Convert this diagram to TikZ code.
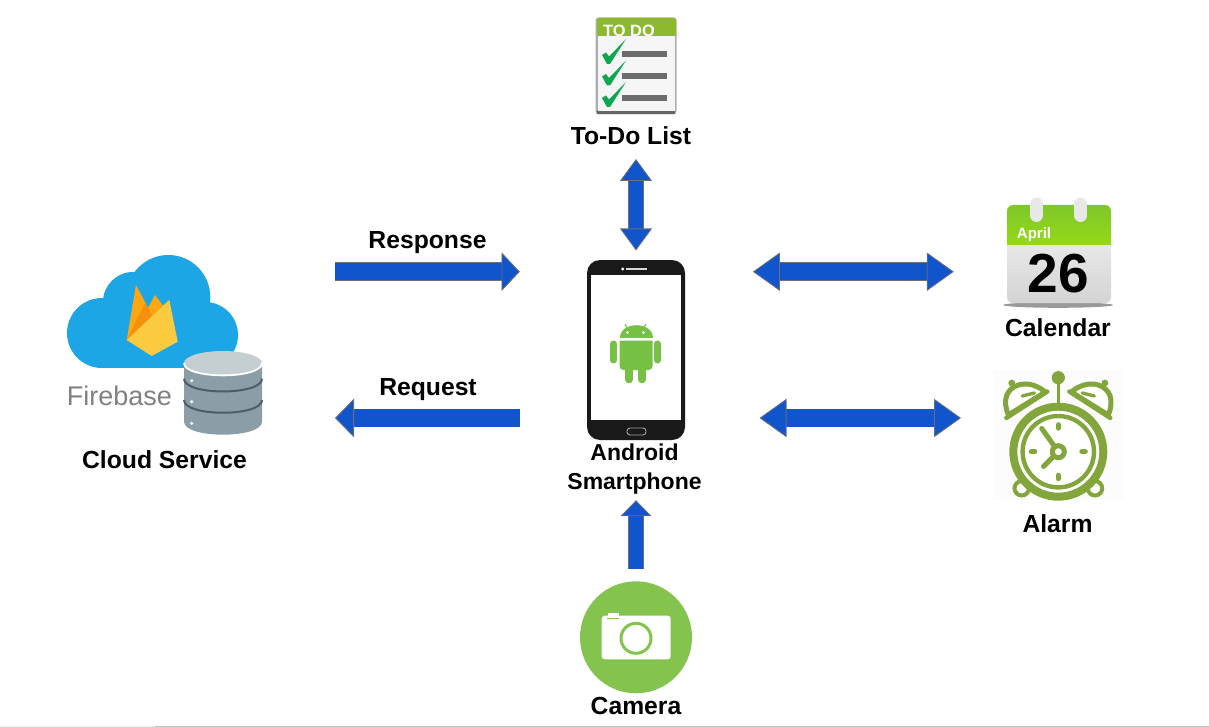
\documentclass[tikz,border=0pt]{standalone}
\usepackage{fontspec}
\setmainfont{Liberation Sans}
\usetikzlibrary{arrows.meta}
\definecolor{arrowblue}{RGB}{17,85,204}
\definecolor{arrowedge}{RGB}{110,110,118}
\definecolor{cloudblue}{RGB}{28,166,230}
\definecolor{dbbody}{RGB}{139,158,168}
\definecolor{dbtopc}{RGB}{197,207,210}
\definecolor{dbband}{RGB}{76,95,105}
\definecolor{flamefront}{RGB}{252,202,63}
\definecolor{flameback}{RGB}{255,167,18}
\definecolor{flamedark}{RGB}{245,143,14}
\definecolor{androidgreen}{RGB}{118,192,67}
\definecolor{cameragreen}{RGB}{132,196,78}
\definecolor{alarmgreen}{RGB}{130,166,60}
\definecolor{caltop}{RGB}{126,200,42}
\definecolor{calgreen}{RGB}{150,216,22}
\definecolor{todogreen}{RGB}{141,185,46}
\definecolor{checkgreen}{RGB}{12,167,80}
\tikzset{
    lbl/.style={inner sep=0pt, align=center, font=\bfseries\fontsize{24.7}{28.7}\selectfont},
    blockbase/.style={draw=arrowedge, line width=.8pt, double=arrowblue, double distance=#1},
    headtip/.style n args={2}{>={Triangle[length=#1pt, width=#2pt, fill=arrowblue, color=arrowedge, line width=.8pt]}}
}
\begin{document}
\begin{tikzpicture}[x=1pt, y=-1pt]
\useasboundingbox (0,0) rectangle (1209,727);
\draw[black!7, line width=1pt] (0,726.4) -- (155,726.4);
\draw[black!24, line width=1pt] (155,726.4) -- (1209,726.4);

\coordinate (upper) at (0,271.7);
\coordinate (lower) at (0,418);
\coordinate (dbedge) at (262,363);

% to-do list
\node (todo) at (636,66) [fill=black!32, rounded corners=3pt, minimum width=81pt, minimum height=97pt, inner sep=0pt]{};
\fill[black!60] (597,110) rectangle (675,114.5);
\fill[black!4] (597.5,36) rectangle (675,111);
\fill[todogreen, rounded corners=2pt] (597,18) rectangle (676,36);
\node (todotitle) at (629,30.5) [text=white, inner sep=0pt, font=\bfseries\fontsize{16.4}{18}\selectfont]{TO DO};
\foreach \y in {0,21.5,43}
{
    \fill[checkgreen] (602,55+\y) -- (606,52.5+\y) -- (609,56.5+\y) -- (626,39+\y) -- (610,64+\y) -- (607,64+\y) -- cycle;
}
\foreach \y in {54,76,98.5}
{
    \fill[black!58] (622,\y-3) rectangle (667,\y+3);
}
\node (todolabel) at (631,136) [lbl]{To-Do List};

% firebase
\fill[cloudblue] (168.3,297) circle (42);
\fill[cloudblue] (133,302) circle (30);
\fill[cloudblue] (102,333) circle (35);
\fill[cloudblue] (205,335) circle (33);
\fill[cloudblue] (102,310) rectangle (205,368);
\fill[flameback] (148,308) -- (155,295) -- (165,308.3) -- (169.3,300) -- (126.7,340) -- cycle;
\fill[flameback] (126.7,340) -- (136,285) -- (148.3,308.3) -- cycle;
\fill[flamedark] (126.7,340) -- (145,303) -- (153,317) -- cycle;
\fill[flamefront] (126.7,340) -- (169.3,300) -- (177.7,341.7) -- (151.7,356) -- cycle;
\node (firebase) at (119.5,396) [text=black!50, inner sep=0pt, font=\fontsize{27}{30}\selectfont]{Firebase};
\fill[dbbody] (184,363) -- (184,421.7) .. controls (184,439) and (262,439) .. (262,421.7) -- (262,363) -- cycle;
\foreach \y in {378.7,400}
{
    \draw[dbband, line width=2pt] (184,\y) .. controls (184,\y+17) and (262,\y+17) .. (262,\y);
}
\fill[dbtopc] (223,363) ellipse (39 and 12);
\draw[white, line width=1.8pt] (184,363) .. controls (184,379.5) and (262,379.5) .. (262,363);
\foreach \y in {380.7,401.7,423.3}
{
    \fill[white!85!dbbody] (191.7,\y) circle (1.8);
}
\node (cloudlabel) at (164.5,460) [lbl]{Cloud Service};

% phone
\node (phone) at (636,350) [fill=black!90, rounded corners=13pt, minimum width=98pt, minimum height=180pt, inner sep=0pt]{};
\fill[white] (591,275) rectangle (681,420);
\draw[white!85!black, line width=2pt] (626,269) -- (647,269);
\fill[white] (622.7,269) circle (1.6);
\draw[white!65!black, line width=.9pt, rounded corners=3pt] (627,428) rectangle (646,435);
\fill[androidgreen] (619.5,338) .. controls (619.5,320.7) and (652.5,320.7) .. (652.5,338) -- cycle;
\fill[androidgreen] (619.5,340.5) [rounded corners=4pt] -- (619.5,370) -- (652.5,370) [sharp corners] -- (652.5,340.5) -- cycle;
\foreach \x in {613.5,657.5}
{
    \draw[androidgreen, line width=7pt, line cap=round] (\x,344) -- (\x,360);
}
\foreach \x in {629,642}
{
    \draw[androidgreen, line width=7.6pt, line cap=round] (\x,368) -- (\x,379.5);
}
\draw[androidgreen, line width=1pt] (625,324) -- (627.3,328.3);
\draw[androidgreen, line width=1pt] (646,324) -- (643.3,328.3);
\foreach \x in {627.5,643.5}
{
    \fill[white] (\x,332.7) circle (1.5);
}
\node (phonelabel) at (634.5,469) [lbl, font=\bfseries\fontsize{23}{28.7}\selectfont]{Android\\Smartphone};

% calendar
\fill[black!40] (1058,305) ellipse (55 and 2.8);
\node (calendar) at (1059,254) [top color=black!4, bottom color=black!17, rounded corners=6pt, minimum width=104pt, minimum height=98pt, inner sep=0pt]{};
\shade[top color=caltop, bottom color=calgreen] (1007,245) [rounded corners=6pt] -- (1007,205) -- (1111,205) [sharp corners] -- (1111,245) -- cycle;
\foreach \x in {1036.5,1080.5}
{
    \draw[black!9, line width=13pt, line cap=round] (\x,204) -- (\x,215.5);
}
\node (calmonth) at (1034,235) [text=white, inner sep=0pt, font=\bfseries\fontsize{15}{17}\selectfont]{April};
\node (calday) at (1058,274) [inner sep=0pt, font=\bfseries\fontsize{55}{55}\selectfont]{26};
\node (calendarlabel) at (1058,328) [lbl]{Calendar};

% alarm
\fill[black!1] (993,370) rectangle (1123,500);
\foreach \s in {1,-1}
{
    \begin{scope}[shift={(1058.3,0)}, xscale=\s]
        \draw[alarmgreen, line width=5pt, line join=round, fill=white] (-50,415) .. controls (-56,400) and (-52,389) .. (-40,385) .. controls (-30,382) and (-20,386) .. (-13,392) -- cycle;
        \draw[alarmgreen, line width=4.4pt, line cap=round] (-52,418) -- (-11,391.5);
        \draw[alarmgreen, line width=3.4pt, line cap=round] (-24,393) -- (-36,396);
        \fill[alarmgreen] (-46.6,383) circle (3.4);
    \end{scope}
}
\draw[alarmgreen, line width=3pt] (1058.3,380) -- (1058.3,405);
\fill[alarmgreen] (1058.3,377.7) circle (6.6);
\foreach \x in {1021.7,1095}
{
    \draw[alarmgreen, line width=4pt, fill=white] (\x,488.3) circle (7.2);
}
\node (alarm) at (1058.3,451.7) [circle, draw=alarmgreen, fill=white, line width=8pt, minimum size=90pt, inner sep=0pt]{};
\draw[alarmgreen, line width=4.4pt] (1058.3,451.7) circle (35.7);
\draw[alarmgreen, line width=5pt, line cap=round] (1058.3,451.7) -- (1041.7,428.5);
\draw[alarmgreen, line width=5pt, line cap=round] (1058.3,451.7) -- (1043.5,466.5);
\draw[alarmgreen, line width=5pt, fill=white] (1058.3,451.7) circle (6);
\foreach \a in {0,90,180,270}
{
    \draw[shift={(1058.3,451.7)}, alarmgreen, line width=5pt, line cap=round] (\a:23.5) -- (\a:27);
}
\node (alarmlabel) at (1057.5,524) [lbl]{Alarm};

% camera
\node (camera) at (636,637.3) [circle, fill=cameragreen, minimum size=112pt, inner sep=0pt]{};
\fill[white, rounded corners=3pt] (601.7,615.7) rectangle (670.7,659.3);
\fill[white] (607.5,613) rectangle (618.5,617);
\draw[cameragreen, line width=.9pt] (607,618.2) -- (618.5,618.2);
\draw[cameragreen, line width=3pt, fill=white] (636,638.3) circle (15);
\node (cameralabel) at (636,706) [lbl]{Camera};

% arrows
\node (responselabel) at (427.5,243) [lbl]{Response};
\node (requestlabel) at (428,390) [lbl]{Request};
\draw[blockbase=17.2pt, headtip={18.3}{38.7}, ->, shorten <=73pt, shorten >=67pt] (dbedge |- upper) -- (phone.west |- upper);
\draw[blockbase=17.2pt, headtip={19}{38.7}, ->, shorten <=67pt, shorten >=73pt] (phone.west |- lower) -- (dbedge |- lower);
\draw[blockbase=17.2pt, headtip={27}{38.3}, <->, shorten <=67.7pt, shorten >=53pt] (phone.east |- upper) -- (calendar.west |- upper);
\draw[blockbase=17.2pt, headtip={27}{38.3}, <->, shorten <=74.3pt, shorten >=48.3pt] (phone.east |- lower) -- (alarm.west |- lower);
\draw[blockbase=14.6pt, headtip={22}{32}, <->, shorten <=9.3pt, shorten >=44.3pt] (phone.north) -- (todo.south);
\draw[blockbase=14.6pt, headtip={16}{31}, ->, shorten <=12pt, shorten >=60pt] (camera.north) -- (phone.south);
\end{tikzpicture}
\end{document}
